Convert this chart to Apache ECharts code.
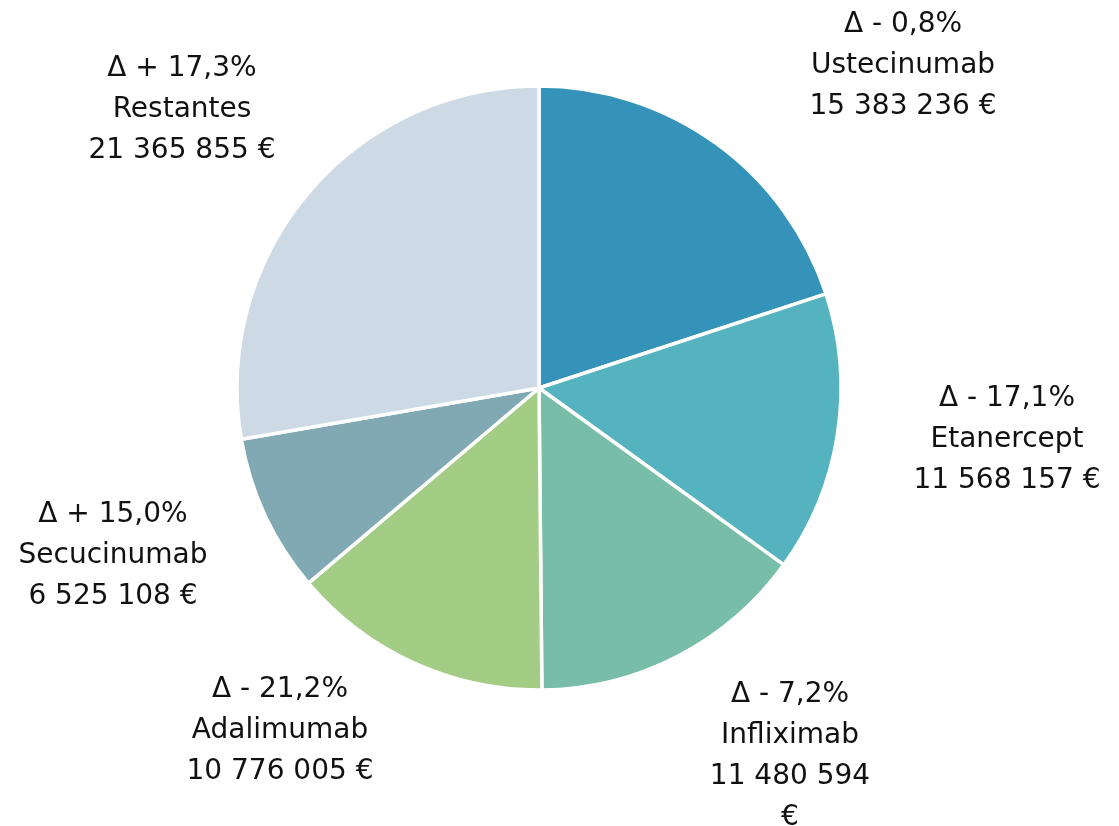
<!DOCTYPE html>
<html>
<head>
<meta charset="utf-8">
<script src="https://cdn.jsdelivr.net/npm/echarts@6/dist/echarts.min.js"></script>
<style>html,body{margin:0;padding:0;background:#fff}#c{width:1119px;height:826px}</style>
</head>
<body>
<div id="c"></div>
<script>
const categories = ['Ustecinumab', 'Etanercept', 'Infliximab', 'Adalimumab', 'Secucinumab', 'Restantes'];
const values = [15383236, 11568157, 11480594, 10776005, 6525108, 21365855];
const deltas = ['- 0,8%', '- 17,1%', '- 7,2%', '- 21,2%', '+ 15,0%', '+ 17,3%'];
const euroOnNewLine = [false, false, true, false, false, false];
const colors = ['#3593BA', '#55B3BF', '#77BDA7', '#A3CC85', '#80A9B3', '#CDD9E5'];
const labelPos = [[903, 66], [1007, 440], [790, 756], [280, 731], [113, 556], [182, 110]];

function fmt(v) { return String(v).replace(/\B(?=(\d{3})+(?!\d))/g, ' '); }

const chart = echarts.init(document.getElementById('c'));
chart.setOption({
  animation: false,
  series: [{
    type: 'pie',
    center: [539, 388],
    radius: [0, 302],
    startAngle: 90,
    clockwise: true,
    itemStyle: { borderColor: '#fff', borderWidth: 3.5 },
    label: {
      show: true,
      color: '#111',
      fontFamily: 'DejaVu Sans',
      fontSize: 28,
      lineHeight: 41,
      align: 'center',
      formatter: p => '\u0394 ' + deltas[p.dataIndex] + '\n' + p.name + '\n' + fmt(p.value) +
        (euroOnNewLine[p.dataIndex] ? '\n' : ' ') + '\u20AC'
    },
    labelLine: { show: false },
    labelLayout: p => ({ x: labelPos[p.dataIndex][0], y: labelPos[p.dataIndex][1], align: 'center', verticalAlign: 'middle' }),
    data: categories.map((c, i) => ({ name: c, value: values[i], itemStyle: { color: colors[i] } }))
  }]
});
</script>
</body>
</html>
